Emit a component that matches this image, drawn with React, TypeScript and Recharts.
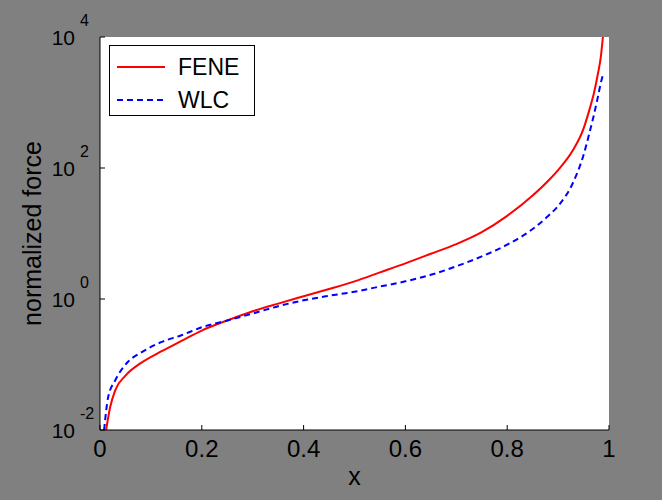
import { LineChart, Line, XAxis, YAxis, CartesianGrid, Legend } from 'recharts';

// FENE curve
const feneX = [0.012, 0.02, 0.03, 0.05, 0.08, 0.12, 0.16, 0.2, 0.25, 0.3, 0.35, 0.4, 0.45, 0.5, 0.55, 0.6, 0.65, 0.7, 0.75, 0.8, 0.85, 0.884, 0.9, 0.929, 0.95, 0.963, 0.97, 0.978, 0.984, 0.988];
const feneY = [0.01, 0.0224, 0.0407, 0.0676, 0.105, 0.158, 0.229, 0.33, 0.47, 0.65, 0.85, 1.1, 1.42, 1.86, 2.55, 3.5, 4.9, 6.9, 10.5, 18.6, 38, 68, 93, 186, 400, 850, 1350, 2700, 5000, 10000];

// WLC curve
const wlcX = [0.008, 0.016, 0.03, 0.055, 0.08, 0.12, 0.16, 0.2, 0.25, 0.3, 0.35, 0.4, 0.45, 0.5, 0.55, 0.6, 0.65, 0.7, 0.75, 0.8, 0.85, 0.878, 0.9, 0.929, 0.95, 0.963, 0.97, 0.978, 0.984, 0.988];
const wlcY = [0.01, 0.0316, 0.0575, 0.11, 0.151, 0.219, 0.28, 0.37, 0.47, 0.6, 0.776, 0.955, 1.12, 1.29, 1.55, 1.86, 2.34, 3.16, 4.47, 6.76, 11.7, 17.8, 26.3, 59, 158, 380, 630, 1200, 2000, 2630];

const xTicks = [0, 0.2, 0.4, 0.6, 0.8, 1];
const yTicks = [0.01, 1, 100, 10000];
const seriesNames = ['FENE', 'WLC'];

const FONT = '"Liberation Sans", Arial, Helvetica, sans-serif';

const feneData = feneX.map((x, i) => ({ x, y: feneY[i] }));
const wlcData = wlcX.map((x, i) => ({ x, y: wlcY[i] }));

const BottomTick = ({ x, y, payload }: any) => (
  <g>
    <line x1={x} x2={x} y1={y} y2={y - 5} stroke="#000" />
    <text x={x} y={y + 27} textAnchor="middle" fontSize={24} fontFamily={FONT} fill="#000">
      {String(payload.value)}
    </text>
  </g>
);

const TopTick = ({ x, y }: any) => <line x1={x} x2={x} y1={y} y2={y + 5} stroke="#000" />;

const LeftTick = ({ x, y, payload }: any) => {
  const exp = Math.round(Math.log10(payload.value));
  return (
    <g>
      <line x1={x} x2={x + 5} y1={y} y2={y} stroke="#000" />
      <text x={x - 25} y={y + 8} textAnchor="end" fontSize={21} fontFamily={FONT} fill="#000">10</text>
      <text x={x - 20} y={y - 11} textAnchor="start" fontSize={16} fontFamily={FONT} fill="#000">{exp}</text>
    </g>
  );
};

const RightTick = ({ x, y }: any) => <line x1={x} x2={x - 5} y1={y} y2={y} stroke="#000" />;

const LegendBox = () => (
  <svg width={146} height={71} style={{ display: 'block' }}>
    <rect x={0.5} y={0.5} width={145} height={70} fill="#fff" stroke="#000" />
    <line x1={8} x2={56} y1={22} y2={22} stroke="#ff0000" strokeWidth={2} />
    <text x={69} y={30} fontSize={23} fontFamily={FONT} fill="#000">{seriesNames[0]}</text>
    <line x1={8} x2={56} y1={55} y2={55} stroke="#0000ff" strokeWidth={2} strokeDasharray="6 4" />
    <text x={69} y={63} fontSize={23} fontFamily={FONT} fill="#000">{seriesNames[1]}</text>
  </svg>
);

export default function App() {
  return (
    <div style={{ position: 'absolute', left: 0, top: 0, width: 662, height: 500, background: '#808080' }}>
      <LineChart width={662} height={500} margin={{ top: 37, right: 53, bottom: 0, left: 0 }}>
        <CartesianGrid xAxisId="b" yAxisId="l" horizontal={false} vertical={false} fill="#fff" />
        <XAxis
          xAxisId="b"
          type="number"
          dataKey="x"
          domain={[0, 1]}
          ticks={xTicks}
          allowDataOverflow
          orientation="bottom"
          height={70}
          tickSize={0}
          tickMargin={0}
          tickLine={false}
          tick={<BottomTick />}
          axisLine={{ stroke: '#000' }}
          label={{
            content: (p: any) => (
              <text x={p.viewBox.x + p.viewBox.width / 2} y={p.viewBox.y + 55} textAnchor="middle" fontSize={25} fontFamily={FONT} fill="#000">x</text>
            ),
          }}
        />
        <XAxis
          xAxisId="t"
          type="number"
          dataKey="x"
          domain={[0, 1]}
          ticks={xTicks}
          allowDataOverflow
          orientation="top"
          height={0}
          tickSize={0}
          tickMargin={0}
          tickLine={false}
          tick={<TopTick />}
          axisLine={{ stroke: '#000' }}
        />
        <YAxis
          yAxisId="l"
          type="number"
          scale="log"
          domain={[0.01, 10000]}
          ticks={yTicks}
          allowDataOverflow
          orientation="left"
          width={100}
          tickSize={0}
          tickMargin={0}
          tickLine={false}
          tick={<LeftTick />}
          axisLine={{ stroke: '#000' }}
          label={{
            content: (p: any) => {
              const cx = p.viewBox.x + 32;
              const cy = p.viewBox.y + p.viewBox.height / 2;
              return (
                <text x={cx} y={cy} transform={`rotate(-90 ${cx} ${cy})`} textAnchor="middle" dominantBaseline="central" fontSize={25} fontFamily={FONT} fill="#000">
                  normalized force
                </text>
              );
            },
          }}
        />
        <YAxis
          yAxisId="r"
          type="number"
          scale="log"
          domain={[0.01, 10000]}
          ticks={yTicks}
          allowDataOverflow
          orientation="right"
          width={0}
          tickSize={0}
          tickMargin={0}
          tickLine={false}
          tick={<RightTick />}
          axisLine={{ stroke: '#000' }}
        />
        <Legend
          layout="vertical"
          align="center"
          verticalAlign="middle"
          wrapperStyle={{ position: 'absolute', left: 109, top: 45, width: 146, height: 71 }}
          content={() => <LegendBox />}
        />
        <Line
          xAxisId="b"
          yAxisId="l"
          data={feneData}
          dataKey="y"
          name={seriesNames[0]}
          type="monotone"
          stroke="#ff0000"
          strokeWidth={2}
          dot={false}
          isAnimationActive={false}
        />
        <Line
          xAxisId="b"
          yAxisId="l"
          data={wlcData}
          dataKey="y"
          name={seriesNames[1]}
          type="monotone"
          stroke="#0000ff"
          strokeWidth={2}
          strokeDasharray="6 4"
          dot={false}
          isAnimationActive={false}
        />
      </LineChart>
    </div>
  );
}
